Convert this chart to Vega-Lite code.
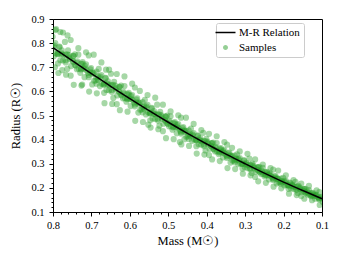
{
"$schema": "https://vega.github.io/schema/vega-lite/v6.json",
"width": 269, "height": 193,
"autosize": {"type": "none"},
"padding": {"left": 53, "top": 19, "right": 23, "bottom": 47},
"config": {
  "view": {"stroke": "black", "strokeWidth": 1},
  "font": "Liberation Serif",
  "axis": {"grid": false, "domainColor": "black", "tickColor": "black", "labelColor": "black", "titleColor": "black", "labelFont": "Liberation Serif", "titleFont": "Liberation Serif", "labelFontSize": 10.5, "titleFontSize": 12.5, "titleFontWeight": "normal", "labelFlush": false, "labelOverlap": false},
  "legend": {"orient": "none", "legendX": 163, "legendY": 4, "padding": 4, "strokeColor": "#cccccc", "fillColor": "rgba(255,255,255,0.8)", "cornerRadius": 2, "labelFont": "Liberation Serif", "labelFontSize": 11, "labelColor": "black", "labelOffset": 8, "symbolSize": 400, "rowPadding": 3}
},
"datasets": {
  "curve": [
    {"m":0.80,"r":0.781},{"m":0.75,"r":0.727},{"m":0.70,"r":0.674},{"m":0.65,"r":0.621},{"m":0.60,"r":0.570},{"m":0.55,"r":0.520},{"m":0.50,"r":0.472},{"m":0.45,"r":0.426},{"m":0.40,"r":0.382},{"m":0.35,"r":0.340},{"m":0.30,"r":0.300},{"m":0.25,"r":0.261},{"m":0.20,"r":0.224},{"m":0.15,"r":0.189},{"m":0.10,"r":0.155}
  ],
  "samples": [
    {"m":0.803,"r":0.791},{"m":0.798,"r":0.746},{"m":0.801,"r":0.826},
    {"m":0.789,"r":0.755},{"m":0.794,"r":0.800},{"m":0.787,"r":0.716},
    {"m":0.783,"r":0.783},{"m":0.778,"r":0.753},{"m":0.781,"r":0.729},
    {"m":0.769,"r":0.805},{"m":0.774,"r":0.728},{"m":0.767,"r":0.752},
    {"m":0.763,"r":0.693},{"m":0.758,"r":0.750},{"m":0.761,"r":0.770},
    {"m":0.749,"r":0.727},{"m":0.754,"r":0.665},{"m":0.747,"r":0.746},
    {"m":0.743,"r":0.754},{"m":0.738,"r":0.692},{"m":0.741,"r":0.707},
    {"m":0.729,"r":0.677},{"m":0.734,"r":0.752},{"m":0.727,"r":0.714},
    {"m":0.723,"r":0.714},{"m":0.718,"r":0.659},{"m":0.721,"r":0.694},
    {"m":0.709,"r":0.676},{"m":0.714,"r":0.712},{"m":0.707,"r":0.749},
    {"m":0.703,"r":0.679},{"m":0.698,"r":0.629},{"m":0.701,"r":0.697},
    {"m":0.689,"r":0.645},{"m":0.694,"r":0.676},{"m":0.687,"r":0.632},
    {"m":0.683,"r":0.662},{"m":0.678,"r":0.622},{"m":0.681,"r":0.693},
    {"m":0.669,"r":0.629},{"m":0.674,"r":0.668},{"m":0.667,"r":0.594},
    {"m":0.663,"r":0.654},{"m":0.658,"r":0.628},{"m":0.661,"r":0.606},
    {"m":0.649,"r":0.673},{"m":0.654,"r":0.605},{"m":0.647,"r":0.626},
    {"m":0.643,"r":0.573},{"m":0.638,"r":0.624},{"m":0.641,"r":0.640},
    {"m":0.629,"r":0.601},{"m":0.634,"r":0.547},{"m":0.627,"r":0.618},
    {"m":0.623,"r":0.624},{"m":0.618,"r":0.571},{"m":0.621,"r":0.583},
    {"m":0.609,"r":0.557},{"m":0.614,"r":0.622},{"m":0.607,"r":0.589},
    {"m":0.603,"r":0.587},{"m":0.598,"r":0.539},{"m":0.601,"r":0.569},
    {"m":0.589,"r":0.553},{"m":0.594,"r":0.585},{"m":0.587,"r":0.616},
    {"m":0.583,"r":0.555},{"m":0.578,"r":0.512},{"m":0.581,"r":0.571},
    {"m":0.569,"r":0.525},{"m":0.574,"r":0.552},{"m":0.567,"r":0.513},
    {"m":0.563,"r":0.539},{"m":0.558,"r":0.504},{"m":0.561,"r":0.565},
    {"m":0.549,"r":0.510},{"m":0.554,"r":0.544},{"m":0.547,"r":0.480},
    {"m":0.543,"r":0.529},{"m":0.538,"r":0.506},{"m":0.541,"r":0.488},
    {"m":0.529,"r":0.545},{"m":0.534,"r":0.486},{"m":0.527,"r":0.505},
    {"m":0.523,"r":0.458},{"m":0.518,"r":0.501},{"m":0.521,"r":0.515},
    {"m":0.509,"r":0.481},{"m":0.514,"r":0.435},{"m":0.507,"r":0.495},
    {"m":0.503,"r":0.500},{"m":0.498,"r":0.455},{"m":0.501,"r":0.465},
    {"m":0.489,"r":0.441},{"m":0.494,"r":0.497},{"m":0.487,"r":0.469},
    {"m":0.483,"r":0.467},{"m":0.478,"r":0.426},{"m":0.481,"r":0.451},
    {"m":0.469,"r":0.437},{"m":0.474,"r":0.464},{"m":0.467,"r":0.491},
    {"m":0.463,"r":0.438},{"m":0.458,"r":0.402},{"m":0.461,"r":0.452},
    {"m":0.449,"r":0.413},{"m":0.454,"r":0.436},{"m":0.447,"r":0.403},
    {"m":0.443,"r":0.423},{"m":0.438,"r":0.395},{"m":0.441,"r":0.446},
    {"m":0.429,"r":0.399},{"m":0.434,"r":0.427},{"m":0.427,"r":0.373},
    {"m":0.423,"r":0.415},{"m":0.418,"r":0.396},{"m":0.421,"r":0.381},
    {"m":0.409,"r":0.428},{"m":0.414,"r":0.379},{"m":0.407,"r":0.394},
    {"m":0.403,"r":0.355},{"m":0.398,"r":0.391},{"m":0.401,"r":0.403},
    {"m":0.389,"r":0.374},{"m":0.394,"r":0.336},{"m":0.387,"r":0.386},
    {"m":0.383,"r":0.388},{"m":0.378,"r":0.351},{"m":0.381,"r":0.359},
    {"m":0.369,"r":0.340},{"m":0.374,"r":0.386},{"m":0.367,"r":0.363},
    {"m":0.363,"r":0.359},{"m":0.358,"r":0.326},{"m":0.361,"r":0.347},
    {"m":0.349,"r":0.335},{"m":0.354,"r":0.357},{"m":0.347,"r":0.379},
    {"m":0.343,"r":0.335},{"m":0.338,"r":0.305},{"m":0.341,"r":0.346},
    {"m":0.329,"r":0.313},{"m":0.334,"r":0.332},{"m":0.327,"r":0.306},
    {"m":0.323,"r":0.321},{"m":0.318,"r":0.298},{"m":0.321,"r":0.339},
    {"m":0.309,"r":0.300},{"m":0.314,"r":0.323},{"m":0.307,"r":0.280},
    {"m":0.303,"r":0.312},{"m":0.298,"r":0.297},{"m":0.301,"r":0.285},
    {"m":0.289,"r":0.321},{"m":0.294,"r":0.282},{"m":0.287,"r":0.294},
    {"m":0.283,"r":0.262},{"m":0.278,"r":0.291},{"m":0.281,"r":0.301},
    {"m":0.269,"r":0.276},{"m":0.274,"r":0.245},{"m":0.267,"r":0.285},
    {"m":0.263,"r":0.287},{"m":0.258,"r":0.257},{"m":0.261,"r":0.264},
    {"m":0.249,"r":0.247},{"m":0.254,"r":0.283},{"m":0.247,"r":0.265},
    {"m":0.243,"r":0.262},{"m":0.238,"r":0.235},{"m":0.241,"r":0.252},
    {"m":0.229,"r":0.242},{"m":0.234,"r":0.259},{"m":0.227,"r":0.276},
    {"m":0.223,"r":0.241},{"m":0.218,"r":0.218},{"m":0.221,"r":0.249},
    {"m":0.209,"r":0.223},{"m":0.214,"r":0.237},{"m":0.207,"r":0.217},
    {"m":0.203,"r":0.228},{"m":0.198,"r":0.210},{"m":0.201,"r":0.242},
    {"m":0.189,"r":0.211},{"m":0.194,"r":0.229},{"m":0.187,"r":0.196},
    {"m":0.183,"r":0.219},{"m":0.178,"r":0.208},{"m":0.181,"r":0.198},
    {"m":0.169,"r":0.225},{"m":0.174,"r":0.195},{"m":0.167,"r":0.204},
    {"m":0.163,"r":0.179},{"m":0.158,"r":0.201},{"m":0.161,"r":0.208},
    {"m":0.149,"r":0.189},{"m":0.154,"r":0.166},{"m":0.147,"r":0.196},
    {"m":0.143,"r":0.196},{"m":0.138,"r":0.173},{"m":0.141,"r":0.179},
    {"m":0.129,"r":0.165},{"m":0.134,"r":0.191},{"m":0.127,"r":0.178},
    {"m":0.123,"r":0.174},{"m":0.118,"r":0.155},{"m":0.121,"r":0.167},
    {"m":0.109,"r":0.159},{"m":0.114,"r":0.171},{"m":0.107,"r":0.183},
    {"m":0.103,"r":0.157},{"m":0.098,"r":0.140},{"m":0.101,"r":0.163},
    {"m":0.792,"r":0.858},{"m":0.781,"r":0.846},{"m":0.776,"r":0.688},{"m":0.762,"r":0.832},{"m":0.724,"r":0.628},{"m":0.662,"r":0.690},{"m":0.552,"r":0.462},{"m":0.470,"r":0.390},{"m":0.795,"r":0.700},
    {"m":0.797,"r":0.783},{"m":0.793,"r":0.758},{"m":0.787,"r":0.754},{"m":0.783,"r":0.786},{"m":0.777,"r":0.770},{"m":0.773,"r":0.751},
    {"m":0.767,"r":0.720},{"m":0.763,"r":0.754},{"m":0.757,"r":0.734},{"m":0.753,"r":0.705},{"m":0.747,"r":0.747},{"m":0.743,"r":0.710},
    {"m":0.737,"r":0.718},{"m":0.733,"r":0.694},{"m":0.727,"r":0.691},{"m":0.723,"r":0.721},{"m":0.717,"r":0.706},{"m":0.713,"r":0.688},
    {"m":0.707,"r":0.659},{"m":0.703,"r":0.691},{"m":0.697,"r":0.671},{"m":0.693,"r":0.644},{"m":0.687,"r":0.682},{"m":0.683,"r":0.647},
    {"m":0.677,"r":0.654},{"m":0.673,"r":0.632},{"m":0.667,"r":0.628},{"m":0.663,"r":0.656},{"m":0.657,"r":0.642},{"m":0.653,"r":0.625},
    {"m":0.647,"r":0.598},{"m":0.643,"r":0.627},{"m":0.637,"r":0.608},{"m":0.633,"r":0.583},{"m":0.627,"r":0.619},{"m":0.623,"r":0.586},
    {"m":0.617,"r":0.592},{"m":0.613,"r":0.572},{"m":0.607,"r":0.568},{"m":0.603,"r":0.594},{"m":0.597,"r":0.580},{"m":0.593,"r":0.564},
    {"m":0.587,"r":0.538},{"m":0.583,"r":0.566},{"m":0.577,"r":0.547},{"m":0.573,"r":0.524},{"m":0.567,"r":0.556},{"m":0.563,"r":0.526},
    {"m":0.557,"r":0.532},{"m":0.553,"r":0.513},{"m":0.547,"r":0.508},{"m":0.543,"r":0.532},{"m":0.537,"r":0.518},{"m":0.533,"r":0.504},
    {"m":0.527,"r":0.479},{"m":0.523,"r":0.504},{"m":0.517,"r":0.487},{"m":0.513,"r":0.466},{"m":0.507,"r":0.496},{"m":0.503,"r":0.468},
    {"m":0.497,"r":0.472},{"m":0.493,"r":0.455},{"m":0.487,"r":0.451},{"m":0.483,"r":0.473},{"m":0.477,"r":0.460},{"m":0.473,"r":0.447},
    {"m":0.467,"r":0.425},{"m":0.463,"r":0.448},{"m":0.457,"r":0.432},{"m":0.453,"r":0.412},{"m":0.447,"r":0.439},{"m":0.443,"r":0.414},
    {"m":0.437,"r":0.417},{"m":0.433,"r":0.401},{"m":0.427,"r":0.398},{"m":0.423,"r":0.418},{"m":0.417,"r":0.406},{"m":0.413,"r":0.393},
    {"m":0.407,"r":0.373},{"m":0.403,"r":0.394},{"m":0.397,"r":0.380},{"m":0.393,"r":0.362},{"m":0.387,"r":0.385},{"m":0.383,"r":0.362},
    {"m":0.377,"r":0.365},{"m":0.373,"r":0.351},{"m":0.367,"r":0.347},{"m":0.363,"r":0.365},{"m":0.357,"r":0.354},{"m":0.353,"r":0.343},
    {"m":0.347,"r":0.324},{"m":0.343,"r":0.343},{"m":0.337,"r":0.329},{"m":0.333,"r":0.313},{"m":0.327,"r":0.334},{"m":0.323,"r":0.314},
    {"m":0.317,"r":0.315},{"m":0.313,"r":0.302},{"m":0.307,"r":0.299},{"m":0.303,"r":0.315},{"m":0.297,"r":0.304},{"m":0.293,"r":0.294},
    {"m":0.287,"r":0.277},{"m":0.283,"r":0.294},{"m":0.277,"r":0.281},{"m":0.273,"r":0.267},{"m":0.267,"r":0.285},{"m":0.263,"r":0.267},
    {"m":0.257,"r":0.268},{"m":0.253,"r":0.257},{"m":0.247,"r":0.253},{"m":0.243,"r":0.267},{"m":0.237,"r":0.257},{"m":0.233,"r":0.249},
    {"m":0.227,"r":0.233},{"m":0.223,"r":0.247},{"m":0.217,"r":0.236},{"m":0.213,"r":0.223},{"m":0.207,"r":0.238},{"m":0.203,"r":0.223},
    {"m":0.197,"r":0.223},{"m":0.193,"r":0.213},{"m":0.187,"r":0.209},{"m":0.183,"r":0.222},{"m":0.177,"r":0.213},{"m":0.173,"r":0.205},
    {"m":0.167,"r":0.191},{"m":0.163,"r":0.204},{"m":0.157,"r":0.193},{"m":0.153,"r":0.182},{"m":0.147,"r":0.195},{"m":0.143,"r":0.181},
    {"m":0.137,"r":0.181},{"m":0.133,"r":0.172},{"m":0.127,"r":0.168},{"m":0.123,"r":0.179},{"m":0.117,"r":0.170},{"m":0.113,"r":0.164},
    {"m":0.107,"r":0.152},{"m":0.103,"r":0.162},
    {"m":0.794,"r":0.854},{"m":0.786,"r":0.676},{"m":0.774,"r":0.844},{"m":0.766,"r":0.669},{"m":0.754,"r":0.813},{"m":0.746,"r":0.627},
    {"m":0.734,"r":0.779},{"m":0.726,"r":0.624},{"m":0.714,"r":0.762},{"m":0.706,"r":0.599},{"m":0.694,"r":0.752},{"m":0.686,"r":0.592},
    {"m":0.674,"r":0.720},{"m":0.666,"r":0.551},{"m":0.654,"r":0.690},{"m":0.646,"r":0.548},{"m":0.634,"r":0.672},{"m":0.626,"r":0.522},
    {"m":0.614,"r":0.662},{"m":0.606,"r":0.516},{"m":0.594,"r":0.632},{"m":0.586,"r":0.478},{"m":0.574,"r":0.602},{"m":0.566,"r":0.473},
    {"m":0.554,"r":0.585},{"m":0.546,"r":0.450},{"m":0.534,"r":0.574},{"m":0.526,"r":0.443},{"m":0.514,"r":0.545},{"m":0.506,"r":0.406},
    {"m":0.494,"r":0.517},{"m":0.486,"r":0.402},{"m":0.474,"r":0.501},{"m":0.466,"r":0.380},{"m":0.454,"r":0.491},{"m":0.446,"r":0.374},
    {"m":0.434,"r":0.465},{"m":0.426,"r":0.342},{"m":0.414,"r":0.440},{"m":0.406,"r":0.338},{"m":0.394,"r":0.424},{"m":0.386,"r":0.318},
    {"m":0.374,"r":0.414},{"m":0.366,"r":0.311},{"m":0.354,"r":0.390},{"m":0.346,"r":0.282},{"m":0.334,"r":0.366},{"m":0.326,"r":0.278},
    {"m":0.314,"r":0.351},{"m":0.306,"r":0.259},{"m":0.294,"r":0.341},{"m":0.286,"r":0.252},{"m":0.274,"r":0.318},{"m":0.266,"r":0.227},
    {"m":0.254,"r":0.297},{"m":0.246,"r":0.221},{"m":0.234,"r":0.282},{"m":0.226,"r":0.205},{"m":0.214,"r":0.272},{"m":0.206,"r":0.198},
    {"m":0.194,"r":0.252},{"m":0.186,"r":0.176},{"m":0.174,"r":0.232},{"m":0.166,"r":0.170},{"m":0.154,"r":0.218},{"m":0.146,"r":0.155},
    {"m":0.134,"r":0.208},{"m":0.126,"r":0.149},{"m":0.114,"r":0.190},{"m":0.106,"r":0.129},
    {"m":0.797,"r":0.791},{"m":0.787,"r":0.760},{"m":0.777,"r":0.758},{"m":0.767,"r":0.729},{"m":0.757,"r":0.740},{"m":0.747,"r":0.722},
    {"m":0.737,"r":0.725},{"m":0.727,"r":0.695},{"m":0.717,"r":0.695},{"m":0.707,"r":0.668},{"m":0.697,"r":0.678},{"m":0.687,"r":0.658},
    {"m":0.677,"r":0.661},{"m":0.667,"r":0.633},{"m":0.657,"r":0.631},{"m":0.647,"r":0.606},{"m":0.637,"r":0.614},{"m":0.627,"r":0.596},
    {"m":0.617,"r":0.598},{"m":0.607,"r":0.572},{"m":0.597,"r":0.570},{"m":0.587,"r":0.546},{"m":0.577,"r":0.554},{"m":0.567,"r":0.535},
    {"m":0.557,"r":0.538},{"m":0.547,"r":0.512},{"m":0.537,"r":0.509},{"m":0.527,"r":0.487},{"m":0.517,"r":0.492},{"m":0.507,"r":0.476},
    {"m":0.497,"r":0.478},{"m":0.487,"r":0.454},{"m":0.477,"r":0.452},{"m":0.467,"r":0.431},{"m":0.457,"r":0.437},{"m":0.447,"r":0.421},
    {"m":0.437,"r":0.422},{"m":0.427,"r":0.400},{"m":0.417,"r":0.398},{"m":0.407,"r":0.379},{"m":0.397,"r":0.385},{"m":0.387,"r":0.371},
    {"m":0.377,"r":0.370},{"m":0.367,"r":0.351},{"m":0.357,"r":0.347},{"m":0.347,"r":0.330},{"m":0.337,"r":0.334},{"m":0.327,"r":0.321},
    {"m":0.317,"r":0.320},{"m":0.307,"r":0.302},{"m":0.297,"r":0.299},{"m":0.287,"r":0.282},{"m":0.277,"r":0.285},{"m":0.267,"r":0.273},
    {"m":0.257,"r":0.272},{"m":0.247,"r":0.255},{"m":0.237,"r":0.253},{"m":0.227,"r":0.237},{"m":0.217,"r":0.240},{"m":0.207,"r":0.228},
    {"m":0.197,"r":0.227},{"m":0.187,"r":0.212},{"m":0.177,"r":0.209},{"m":0.167,"r":0.195},{"m":0.157,"r":0.196},{"m":0.147,"r":0.186},
    {"m":0.137,"r":0.184},{"m":0.127,"r":0.170},{"m":0.117,"r":0.167},{"m":0.107,"r":0.155}
  ]
},
"layer": [
  {
    "data": {"name": "samples"},
    "mark": {"type": "point", "filled": true, "size": 38, "opacity": 0.42, "clip": true},
    "encoding": {
      "x": {"field": "m", "type": "quantitative", "scale": {"domain": [0.1, 0.8], "reverse": true, "nice": false, "zero": false},
            "axis": {"orient": "bottom", "values": [0.12,0.14,0.16,0.18,0.22,0.24,0.26,0.28,0.32,0.34,0.36,0.38,0.42,0.44,0.46,0.48,0.52,0.54,0.56,0.58,0.62,0.64,0.66,0.68,0.72,0.74,0.76,0.78], "labels": false, "domain": false, "tickSize": 2, "title": null}},
      "y": {"field": "r", "type": "quantitative", "scale": {"domain": [0.1, 0.9], "nice": false, "zero": false},
            "axis": {"orient": "left", "values": [0.12,0.14,0.16,0.18,0.22,0.24,0.26,0.28,0.32,0.34,0.36,0.38,0.42,0.44,0.46,0.48,0.52,0.54,0.56,0.58,0.62,0.64,0.66,0.68,0.72,0.74,0.76,0.78,0.82,0.84,0.86,0.88], "labels": false, "domain": false, "tickSize": 2, "title": null}},
      "color": {"datum": "Samples", "scale": {"domain": ["M-R Relation", "Samples"], "range": ["black", "#2ca02c"]},
        "legend": {"title": null,
          "encode": {"symbols": {"update": {
            "shape": {"signal": "datum.label === 'M-R Relation' ? 'stroke' : 'circle'"},
            "size": {"signal": "datum.label === 'M-R Relation' ? 400 : 12"},
            "fill": {"signal": "datum.label === 'M-R Relation' ? 'transparent' : '#2ca02c'"},
            "stroke": {"signal": "datum.label === 'M-R Relation' ? 'black' : 'transparent'"},
            "strokeWidth": {"value": 1.5},
            "opacity": {"signal": "datum.label === 'M-R Relation' ? 1 : 0.5"}}}}}}
    }
  },
  {
    "data": {"name": "curve"},
    "mark": {"type": "line", "strokeWidth": 1.5, "interpolate": "monotone"},
    "encoding": {
      "x": {"field": "m", "type": "quantitative",
            "axis": {"orient": "bottom", "values": [0.1,0.2,0.3,0.4,0.5,0.6,0.7,0.8], "format": ".1f", "tickSize": 4, "labelPadding": 4, "title": "Mass (M☉)", "titlePadding": 4}},
      "y": {"field": "r", "type": "quantitative",
            "axis": {"orient": "left", "values": [0.1,0.2,0.3,0.4,0.5,0.6,0.7,0.8,0.9], "format": ".1f", "tickSize": 4, "labelPadding": 5, "title": "Radius (R☉)", "titlePadding": 8}},
      "color": {"datum": "M-R Relation",
        "legend": {"title": null,
          "encode": {"symbols": {"update": {
            "shape": {"signal": "datum.label === 'M-R Relation' ? 'stroke' : 'circle'"},
            "size": {"signal": "datum.label === 'M-R Relation' ? 400 : 12"},
            "fill": {"signal": "datum.label === 'M-R Relation' ? 'transparent' : '#2ca02c'"},
            "stroke": {"signal": "datum.label === 'M-R Relation' ? 'black' : 'transparent'"},
            "strokeWidth": {"value": 1.5},
            "opacity": {"signal": "datum.label === 'M-R Relation' ? 1 : 0.5"}}}}}}
    }
  }
],
"resolve": {"axis": {"x": "independent", "y": "independent"}}
}
